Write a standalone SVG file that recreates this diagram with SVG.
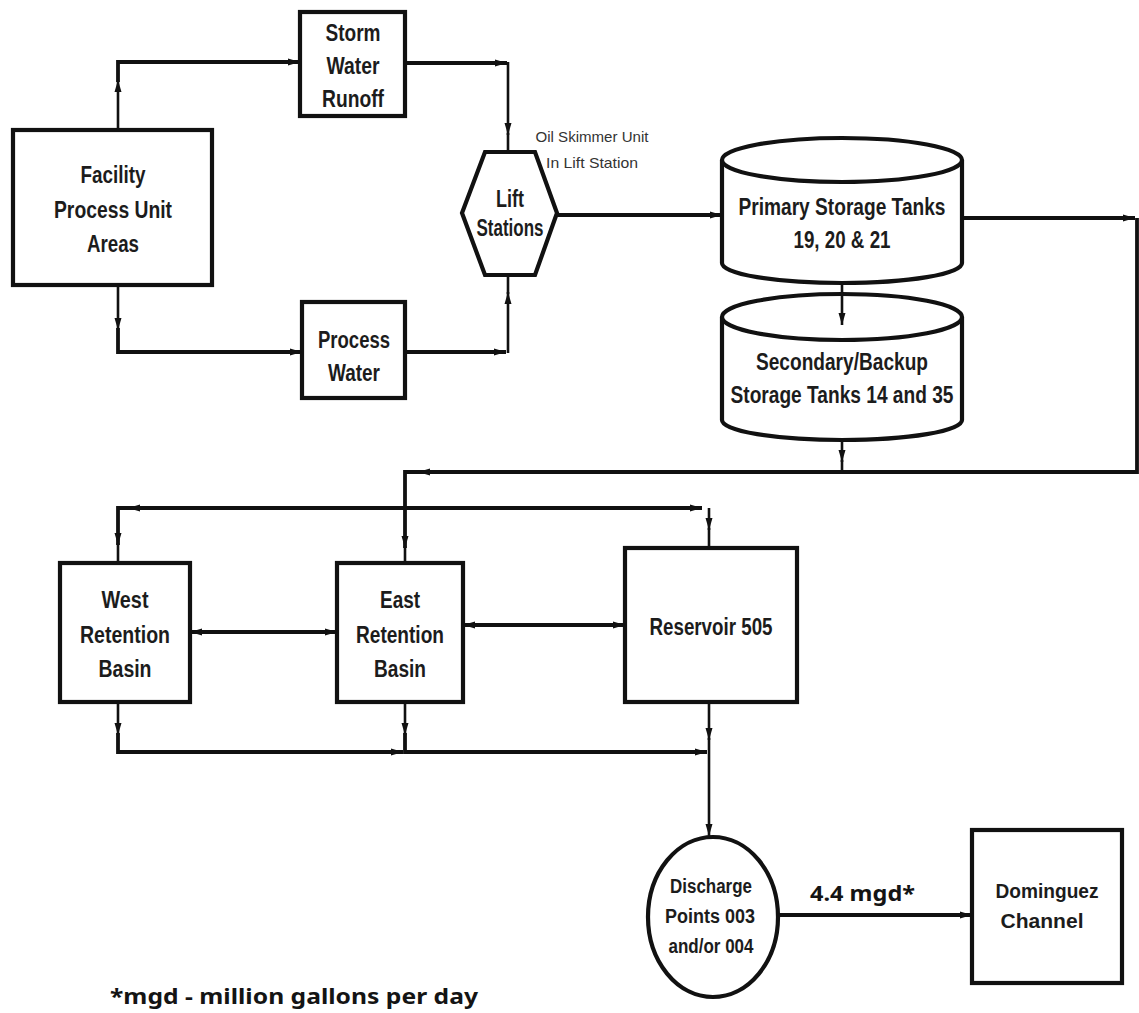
<svg xmlns="http://www.w3.org/2000/svg" width="1139" height="1013" viewBox="0 0 1139 1013">
<style>
.box{fill:#fff;stroke:#111;stroke-width:4.2}
.ln{fill:none;stroke:#111;stroke-width:3.8}
.lt{fill:none;stroke:#111;stroke-width:2.6}
.t{font-family:"Liberation Sans",Arial,sans-serif;font-weight:bold;font-size:23px;fill:#1c1c1c;text-anchor:middle}
.s{font-family:"Liberation Sans",Arial,sans-serif;font-size:15px;fill:#333;text-anchor:middle}
.c{font-family:"Noto Sans","Open Sans",sans-serif;font-weight:bold;fill:#141414}
</style>
<defs>
<marker id="ah" viewBox="0 0 12 8" refX="12" refY="4" markerWidth="12" markerHeight="8" markerUnits="userSpaceOnUse" orient="auto-start-reverse">
<path d="M0,0.5 L12,4 L0,7.5 Z" fill="#111"/>
</marker>
</defs>
<rect width="1139" height="1013" fill="#fff"/>
<g id="facility">
<rect class="box" x="13" y="130" width="199" height="155"/>
<text class="t" x="113" y="183" textLength="65" lengthAdjust="spacingAndGlyphs">Facility</text>
<text class="t" x="113" y="218" textLength="118" lengthAdjust="spacingAndGlyphs">Process Unit</text>
<text class="t" x="113" y="252" textLength="52" lengthAdjust="spacingAndGlyphs">Areas</text>
</g>
<g id="storm">
<rect class="box" x="300" y="12" width="105" height="104"/>
<text class="t" x="353" y="41" textLength="55" lengthAdjust="spacingAndGlyphs">Storm</text>
<text class="t" x="353" y="74" textLength="53" lengthAdjust="spacingAndGlyphs">Water</text>
<text class="t" x="353" y="107" textLength="62" lengthAdjust="spacingAndGlyphs">Runoff</text>
</g>
<g id="process">
<rect class="box" x="302" y="302" width="103" height="96"/>
<text class="t" x="354" y="348" textLength="72" lengthAdjust="spacingAndGlyphs">Process</text>
<text class="t" x="354" y="381" textLength="52" lengthAdjust="spacingAndGlyphs">Water</text>
</g>
<g id="lift">
<polygon class="box" points="485,152 535,152 557,213 535,275 485,275 462,213"/>
<text class="t" x="510" y="207" textLength="28" lengthAdjust="spacingAndGlyphs">Lift</text>
<text class="t" x="510" y="236" textLength="67" lengthAdjust="spacingAndGlyphs">Stations</text>
</g>
<g id="skimmer-note">
<text class="s" x="592" y="142" textLength="113" lengthAdjust="spacingAndGlyphs">Oil Skimmer Unit</text>
<text class="s" x="592" y="168" textLength="92" lengthAdjust="spacingAndGlyphs">In Lift Station</text>
</g>
<g id="primary">
<path class="box" d="M722,160 V263 A120,20 0 0 0 962,263 V160"/>
<ellipse class="box" cx="842" cy="160" rx="120" ry="22"/>
<text class="t" x="842" y="215" textLength="207" lengthAdjust="spacingAndGlyphs">Primary Storage Tanks</text>
<text class="t" x="842" y="248" textLength="97" lengthAdjust="spacingAndGlyphs">19, 20 &amp; 21</text>
</g>
<g id="secondary">
<path class="box" d="M722,317 V420 A120,20 0 0 0 962,420 V317"/>
<ellipse class="box" cx="842" cy="317" rx="120" ry="23"/>
<text class="t" x="842" y="370" textLength="172" lengthAdjust="spacingAndGlyphs">Secondary/Backup</text>
<text class="t" x="842" y="403" textLength="223" lengthAdjust="spacingAndGlyphs">Storage Tanks 14 and 35</text>
</g>
<g id="west">
<rect class="box" x="60" y="563" width="130" height="139"/>
<text class="t" x="125" y="608" textLength="47" lengthAdjust="spacingAndGlyphs">West</text>
<text class="t" x="125" y="643" textLength="90" lengthAdjust="spacingAndGlyphs">Retention</text>
<text class="t" x="125" y="677" textLength="53" lengthAdjust="spacingAndGlyphs">Basin</text>
</g>
<g id="east">
<rect class="box" x="337" y="563" width="126" height="139"/>
<text class="t" x="400" y="608" textLength="40" lengthAdjust="spacingAndGlyphs">East</text>
<text class="t" x="400" y="643" textLength="88" lengthAdjust="spacingAndGlyphs">Retention</text>
<text class="t" x="400" y="677" textLength="52" lengthAdjust="spacingAndGlyphs">Basin</text>
</g>
<g id="reservoir">
<rect class="box" x="625" y="548" width="172" height="154"/>
<text class="t" x="711" y="635" textLength="123" lengthAdjust="spacingAndGlyphs">Reservoir 505</text>
</g>
<g id="discharge">
<ellipse class="box" cx="713" cy="917" rx="65" ry="80"/>
<text class="t" x="711" y="893" style="font-size:20px" textLength="82" lengthAdjust="spacingAndGlyphs">Discharge</text>
<text class="t" x="710" y="923" style="font-size:20px" textLength="90" lengthAdjust="spacingAndGlyphs">Points  003</text>
<text class="t" x="711" y="953" style="font-size:20px" textLength="85" lengthAdjust="spacingAndGlyphs">and/or 004</text>
</g>
<g id="dominguez">
<rect class="box" x="972" y="830" width="150" height="153"/>
<text class="t" x="1047" y="898" style="font-size:21px" textLength="103" lengthAdjust="spacingAndGlyphs">Dominguez</text>
<text class="t" x="1042" y="928" style="font-size:21px" textLength="83" lengthAdjust="spacingAndGlyphs">Channel</text>
</g>
<g id="labels">
<text class="c" x="810" y="901" style="font-size:22px" textLength="105" lengthAdjust="spacingAndGlyphs">4.4 mgd*</text>
<text class="c" x="110" y="1004" style="font-size:22px" textLength="368" lengthAdjust="spacingAndGlyphs">*mgd - million gallons per day</text>
</g>
<g id="connectors">
<path class="lt" d="M118,130 V80" marker-end="url(#ah)"/>
<path class="ln" d="M118,82 V62 H300" marker-end="url(#ah)"/>
<path class="lt" d="M118,285 V330" marker-end="url(#ah)"/>
<path class="ln" d="M118,328 V352 H302" marker-end="url(#ah)"/>
<path class="ln" d="M405,63 H507" marker-end="url(#ah)"/>
<path class="lt" d="M508,62 V135" marker-end="url(#ah)"/>
<path class="lt" d="M508,133 V152"/>
<path class="ln" d="M405,352 H506" marker-end="url(#ah)"/>
<path class="lt" d="M508,353 V292" marker-end="url(#ah)"/>
<path class="lt" d="M508,294 V275"/>
<path class="ln" d="M557,215 H722" marker-end="url(#ah)"/>
<path class="lt" d="M842,283 V325" marker-end="url(#ah)"/>
<path class="ln" d="M962,218 H1135" marker-end="url(#ah)"/>
<path class="ln" d="M1137,218 V472 H418" marker-end="url(#ah)"/>
<path class="ln" d="M420,472 H405 V548" marker-end="url(#ah)"/>
<path class="lt" d="M405,546 V563"/>
<path class="lt" d="M842,440 V462" marker-end="url(#ah)"/>
<path class="lt" d="M842,460 V472"/>
<path class="ln" d="M405,508 H128" marker-end="url(#ah)"/>
<path class="ln" d="M130,508 H118 V545" marker-end="url(#ah)"/>
<path class="lt" d="M118,543 V563"/>
<path class="ln" d="M405,508 H702" marker-end="url(#ah)"/>
<path class="lt" d="M709,508 V530" marker-end="url(#ah)"/>
<path class="lt" d="M709,528 V548"/>
<path class="ln" d="M190,632 H337" marker-start="url(#ah)" marker-end="url(#ah)"/>
<path class="ln" d="M463,625 H625" marker-start="url(#ah)" marker-end="url(#ah)"/>
<path class="lt" d="M118,702 V735" marker-end="url(#ah)"/>
<path class="ln" d="M118,733 V752 H403" marker-end="url(#ah)"/>
<path class="lt" d="M405,702 V735" marker-end="url(#ah)"/>
<path class="ln" d="M405,733 V752 H707" marker-end="url(#ah)"/>
<path class="lt" d="M709,702 V740" marker-end="url(#ah)"/>
<path class="lt" d="M709,738 V836" marker-end="url(#ah)"/>
<path class="ln" d="M778,915 H972" marker-end="url(#ah)"/>
</g>
</svg>
